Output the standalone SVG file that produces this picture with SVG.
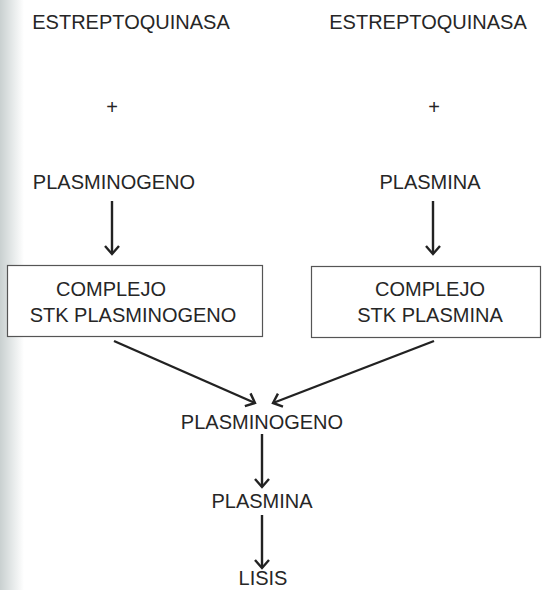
<svg xmlns="http://www.w3.org/2000/svg" width="542" height="590" viewBox="0 0 542 590">
<defs>
<linearGradient id="edge" x1="0" y1="0" x2="1" y2="0">
<stop offset="0" stop-color="#c9d0d0"/>
<stop offset="0.5" stop-color="#e4e8e8"/>
<stop offset="1" stop-color="#ffffff"/>
</linearGradient>
<marker id="head" markerUnits="userSpaceOnUse" markerWidth="20" markerHeight="20" viewBox="-10 -10 20 20" refX="0" refY="0" orient="auto">
<path d="M-8,-7 L0,0 L-8,7" fill="none" stroke="#222" stroke-width="2.4" stroke-linejoin="miter"/>
</marker>
<style>
text{font-family:"Liberation Sans",Arial,sans-serif;font-size:20px;fill:#262626;text-anchor:middle}
.box{fill:#ffffff;stroke:#555;stroke-width:1.2}
.arr{stroke:#222;stroke-width:2.4;fill:none;marker-end:url(#head)}
</style>
</defs>
<rect width="542" height="590" fill="#ffffff"/>
<rect x="0" y="0" width="24" height="590" fill="url(#edge)"/>

<g id="stk1"><text x="131" y="29">ESTREPTOQUINASA</text></g>
<g id="stk2"><text x="428" y="29">ESTREPTOQUINASA</text></g>
<g id="plus1"><text x="112" y="114">+</text></g>
<g id="plus2"><text x="434" y="114">+</text></g>
<g id="plasminogeno1"><text x="114" y="189">PLASMINOGENO</text></g>
<g id="plasmina1"><text x="430" y="189">PLASMINA</text></g>

<g id="complejo1">
<rect class="box" x="7.5" y="265.5" width="255" height="71"/>
<text x="111" y="296">COMPLEJO</text>
<text x="133" y="322">STK PLASMINOGENO</text>
</g>
<g id="complejo2">
<rect class="box" x="311.5" y="266.5" width="229" height="71"/>
<text x="430" y="296">COMPLEJO</text>
<text x="430" y="322">STK PLASMINA</text>
</g>

<g id="plasminogeno2"><text x="262" y="429">PLASMINOGENO</text></g>
<g id="plasmina2"><text x="262" y="508">PLASMINA</text></g>
<g id="lisis"><text x="263" y="585">LISIS</text></g>

<g id="connectors">
<line class="arr" x1="112" y1="201" x2="112" y2="254"/>
<line class="arr" x1="433" y1="201" x2="433" y2="254"/>
<line class="arr" x1="114" y1="341" x2="255" y2="403"/>
<line class="arr" x1="434" y1="341" x2="273" y2="403"/>
<line class="arr" x1="262" y1="434" x2="262" y2="487"/>
<line class="arr" x1="262" y1="515" x2="262" y2="568"/>
</g>
</svg>
